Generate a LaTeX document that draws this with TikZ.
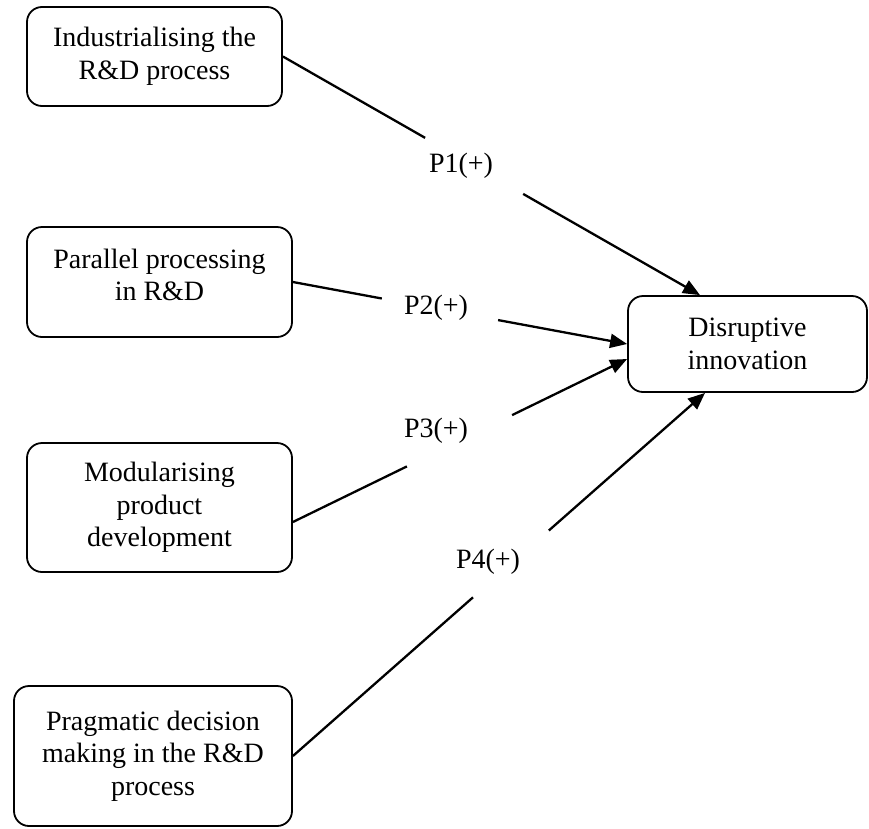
\documentclass[tikz,border=0pt]{standalone}
\usepackage{fontspec}
\setmainfont{Liberation Serif}
\usetikzlibrary{arrows.meta,calc}
\begin{document}
\begin{tikzpicture}[x=1pt,y=-1pt,
  box/.style={draw,line width=1.8pt,rounded corners=15pt,align=center,inner sep=0pt,font=\fontsize{28}{32.5}\selectfont},
  plabel/.style={inner sep=0pt,font=\fontsize{28}{32.5}\selectfont},
  link/.style={line width=2.3pt},
  arr/.style={line width=2.3pt,-{Triangle[length=17pt,width=14pt]}}]
\useasboundingbox (0,0) rectangle (869,828);
\node[box,minimum width=255pt,minimum height=99pt] (b1) at (154.5,56.5) {Industrialising the\\R\&D process};
\node[box,minimum width=265pt,minimum height=110pt,text depth=14pt] (b2) at (159.5,282) {Parallel processing\\in R\&D};
\node[box,minimum width=265pt,minimum height=129pt] (b3) at (159.5,507.5) {Modularising\\product\\development};
\node[box,minimum width=278pt,minimum height=140pt] (b4) at (153,756) {Pragmatic decision\\making in the R\&D\\process};
\node[box,minimum width=239pt,minimum height=96pt] (b5) at (747.5,344) {Disruptive\\innovation};
\node[plabel] (p1) at (461,166) {P1(+)};
\node[plabel] (p2) at (436,308) {P2(+)};
\node[plabel] (p3) at (436,431) {P3(+)};
\node[plabel] (p4) at (488,562) {P4(+)};
\coordinate (s1) at (b1.east);
\coordinate (s2) at (b2.east);
\coordinate (s3) at ($(b3.east)+(0,14.5)$);
\coordinate (s4) at (b4.east);
\coordinate (t1) at ($(b5.north)+(-47.5,0)$);
\coordinate (t2) at (b5.west);
\coordinate (t3) at ($(b5.west)+(0,15)$);
\coordinate (t4) at ($(b5.south)+(-42.5,0)$);
\draw[link] (s1) -- ($(s1)!0.341!(t1)$);
\draw[arr] ($(s1)!0.576!(t1)$) -- (t1);
\draw[link] (s2) -- ($(s2)!0.266!(t2)$);
\draw[arr] ($(s2)!0.614!(t2)$) -- (t2);
\draw[link] (s3) -- ($(s3)!0.341!(t3)$);
\draw[arr] ($(s3)!0.656!(t3)$) -- (t3);
\draw[link] (s4) -- ($(s4)!0.437!(t4)$);
\draw[arr] ($(s4)!0.621!(t4)$) -- (t4);
\end{tikzpicture}
\end{document}
